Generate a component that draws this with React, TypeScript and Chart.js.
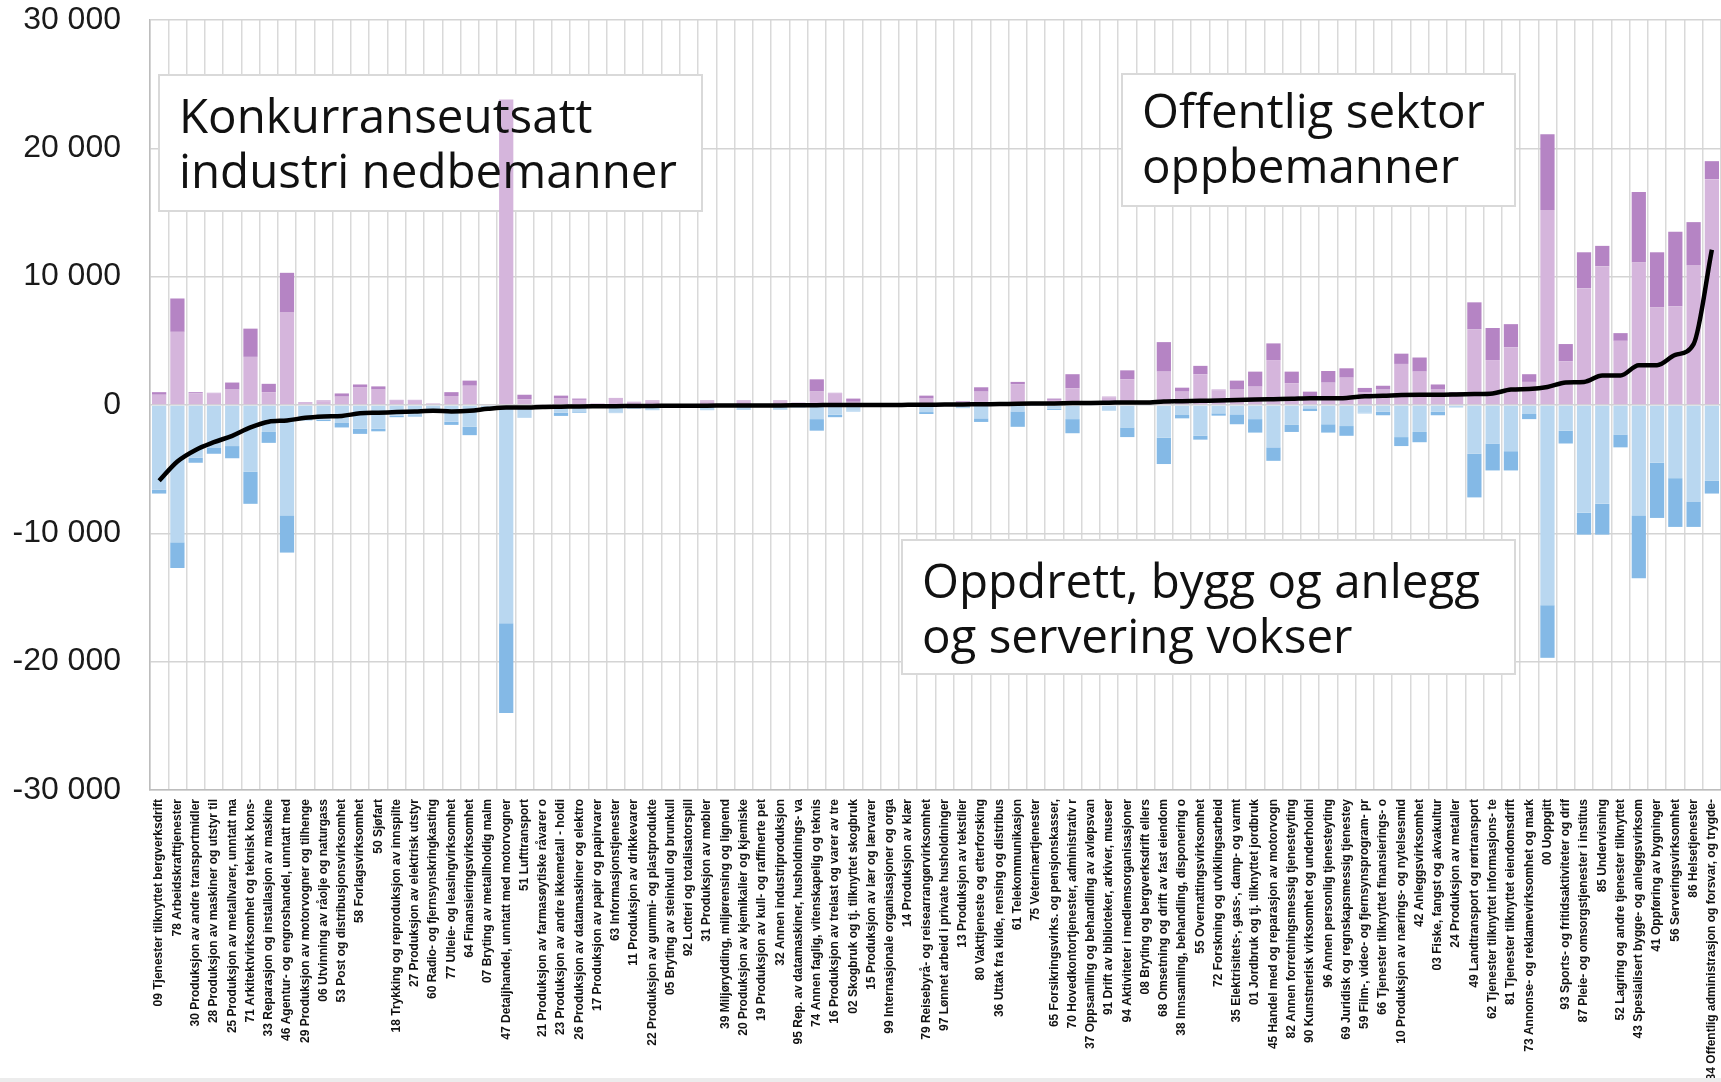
import React, { useEffect, useRef } from "react";
import { Chart, registerables } from "chart.js";

Chart.register(...registerables);

const categories = [
  "09 Tjenester tilknyttet bergverksdrift",
  "78 Arbeidskrafttjenester",
  "30 Produksjon av andre transportmidler",
  "28 Produksjon av maskiner og utstyr til",
  "25 Produksjon av metallvarer, unntatt ma",
  "71 Arkitektvirksomhet og teknisk kons-",
  "33 Reparasjon og installasjon av maskine",
  "46 Agentur- og engroshandel, unntatt med",
  "29 Produksjon av motorvogner og tilhenge",
  "06 Utvinning av råolje og naturgass",
  "53 Post og distribusjonsvirksomhet",
  "58 Forlagsvirksomhet",
  "50 Sjøfart",
  "18 Trykking og reproduksjon av innspilte",
  "27 Produksjon av elektrisk utstyr",
  "60 Radio- og fjernsynskringkasting",
  "77 Utleie- og leasingvirksomhet",
  "64 Finansieringsvirksomhet",
  "07 Bryting av metallholdig malm",
  "47 Detaljhandel, unntatt med motorvogner",
  "51 Lufttransport",
  "21 Produksjon av farmasøytiske råvarer o",
  "23 Produksjon av andre ikkemetall - holdi",
  "26 Produksjon av datamaskiner og elektro",
  "17 Produksjon av papir og papirvarer",
  "63 Informasjonstjenester",
  "11 Produksjon av drikkevarer",
  "22 Produksjon av gummi- og plastprodukte",
  "05 Bryting av steinkull og brunkull",
  "92 Lotteri og totalisatorspill",
  "31 Produksjon av møbler",
  "39 Miljørydding, miljørensing og lignend",
  "20 Produksjon av kjemikalier og kjemiske",
  "19 Produksjon av kull- og raffinerte pet",
  "32 Annen industriproduksjon",
  "95 Rep. av datamaskiner, husholdnings- va",
  "74 Annen faglig, vitenskapelig og teknis",
  "16 Produksjon av trelast og varer av tre",
  "02 Skogbruk og tj. tilknyttet skogbruk",
  "15 Produksjon av lær og lærvarer",
  "99 Internasjonale organisasjoner og orga",
  "14 Produksjon av klær",
  "79 Reisebyrå- og reisearrangørvirksomhet",
  "97 Lønnet arbeid i private husholdninger",
  "13 Produksjon av tekstiler",
  "80 Vakttjeneste og etterforsking",
  "36 Uttak fra kilde, rensing og distribus",
  "61 Telekommunikasjon",
  "75 Veterinærtjenester",
  "65 Forsikringsvirks. og pensjonskasser,",
  "70 Hovedkontortjenester, administrativ r",
  "37 Oppsamling og behandling av avløpsvan",
  "91 Drift av biblioteker, arkiver, museer",
  "94 Aktiviteter i medlemsorganisasjoner",
  "08 Bryting og bergverksdrift ellers",
  "68 Omsetning og drift av fast eiendom",
  "38 Innsamling, behandling, disponering o",
  "55 Overnattingsvirksomhet",
  "72 Forskning og utviklingsarbeid",
  "35 Elektrisitets-, gass-, damp- og varmt",
  "01 Jordbruk og tj. tilknyttet jordbruk",
  "45 Handel med og reparasjon av motorvogn",
  "82 Annen forretningsmessig tjenesteyting",
  "90 Kunstnerisk virksomhet og underholdni",
  "96 Annen personlig tjenesteyting",
  "69 Juridisk og regnskapsmessig tjenestey",
  "59 Film-, video- og fjernsynsprogram- pr",
  "66 Tjenester tilknyttet finansierings- o",
  "10 Produksjon av nærings- og nytelsesmid",
  "42 Anleggsvirksomhet",
  "03 Fiske, fangst og akvakultur",
  "24 Produksjon av metaller",
  "49 Landtransport og rørtransport",
  "62 Tjenester tilknyttet informasjons- te",
  "81 Tjenester tilknyttet eiendomsdrift",
  "73 Annonse- og reklamevirksomhet og mark",
  "00 Uoppgitt",
  "93 Sports- og fritidsaktiviteter og drif",
  "87 Pleie- og omsorgstjenester i institus",
  "85 Undervisning",
  "52 Lagring og andre tjenester tilknyttet",
  "43 Spesialisert bygge- og anleggsvirksom",
  "41 Oppføring av bygninger",
  "56 Serveringsvirksomhet",
  "86 Helsetjenester",
  "84 Offentlig administrasjon og forsvar, og trygde-",
];

// Inflow, lower (light purple) part
const gainBase = [
  800, 5700, 900, 900, 1200, 3750, 1000, 7200, 150, 300,
  650, 1400, 1200, 350, 350, 100, 700, 1500, 50, 23800,
  450, 50, 500, 400, 100, 500, 200, 300, 20, 30,
  300, 30, 300, 20, 300, 150, 1050, 900, 250, 20,
  20, 30, 500, 50, 250, 1040, 100, 1600, 100, 400,
  1300, 100, 600, 2000, 200, 2600, 1040, 2400, 1150, 1200,
  1430, 3500, 1700, 700, 1740, 2130, 1000, 1200, 3200, 2600,
  1200, 900, 5900, 3500, 4500, 1800, 15200, 3400, 9100, 10800,
  5000, 11100, 7600, 7700, 10900, 17600,
];

// Inflow, upper (dark purple) part
const gainTop = [
  200, 2600, 100, 50, 550, 2200, 650, 3100, 50, 50,
  250, 200, 250, 50, 50, 20, 300, 400, 0, 0,
  350, 0, 230, 100, 20, 50, 50, 50, 0, 0,
  50, 0, 50, 0, 50, 30, 950, 50, 250, 0,
  0, 0, 230, 0, 50, 340, 0, 200, 0, 100,
  1100, 20, 50, 700, 20, 2300, 310, 650, 50, 700,
  1170, 1300, 900, 340, 910, 730, 330, 300, 800, 1100,
  400, 100, 2100, 2500, 1800, 600, 5900, 1350, 2800, 1600,
  600, 5500, 4300, 5800, 3350, 1400,
];

// Outflow, upper (light blue) part
const lossBase = [
  -6600, -10700, -4100, -3350, -3200, -5200, -2100, -8600, -1100, -1150,
  -1400, -1850, -1850, -850, -800, -500, -1300, -1700, -350, -17000,
  -1000, -200, -600, -500, -200, -600, -300, -350, -80, -80,
  -350, -70, -350, -50, -350, -200, -1100, -750, -450, -20,
  -20, -20, -550, -20, -250, -1040, -50, -500, -20, -300,
  -1100, -50, -450, -1750, -50, -2550, -780, -2400, -650, -730,
  -1100, -3300, -1550, -260, -1500, -1640, -600, -530, -2500, -2100,
  -530, -200, -3800, -3000, -3600, -700, -15600, -2000, -8400, -7700,
  -2300, -8600, -4500, -5700, -7550, -5900,
];

// Outflow, lower (dark blue) part
const lossTop = [
  -300, -2000, -400, -450, -950, -2500, -850, -2900, -100, -100,
  -350, -400, -200, -100, -100, -70, -250, -650, 0, -7000,
  0, 0, -250, -100, 0, -30, 0, -50, 0, 0,
  -50, 0, -40, 0, -30, 0, -900, -200, -50, 0,
  0, 0, -150, 0, 0, -280, 0, -1200, 0, -80,
  -1100, 0, 0, -750, 0, -2050, -260, -300, -180, -770,
  -1050, -1050, -550, -210, -650, -760, -50, -270, -700, -800,
  -270, 0, -3400, -2100, -1500, -400, -4100, -1000, -1700, -2400,
  -1000, -4900, -4300, -3800, -1950, -1000,
];

// Net change (black line)
const netChange = [
  -5900, -4400, -3500, -2900, -2400, -1750, -1300, -1200, -1000, -900,
  -850, -650, -600, -550, -500, -450, -500, -450, -300, -200,
  -200, -150, -130, -110, -100, -90, -80, -70, -60, -50,
  -50, -40, -40, -30, -30, -20, -10, 0, 0, 0,
  0, 10, 20, 30, 40, 60, 70, 100, 110, 120,
  150, 160, 180, 200, 200, 280, 300, 330, 350, 380,
  420, 450, 480, 520, 520, 550, 680, 720, 780, 800,
  800, 820, 850, 900, 1200, 1250, 1400, 1750, 1800, 2300,
  2300, 3100, 3100, 3900, 4750, 12100,
];

const yTicks = [30000, 20000, 10000, 0, -10000, -20000, -30000];

const annotationTexts = [
  ["Konkurranseutsatt", "industri nedbemanner"],
  ["Offentlig sektor", "oppbemanner"],
  ["Oppdrett, bygg og anlegg", "og servering vokser"],
];

const fmt = (v: number) => {
  const s = Math.abs(v).toString().replace(/\B(?=(\d{3})+(?!\d))/g, " ");
  return (v < 0 ? "-" : "") + s;
};

const boxPlugin = {
  id: "textBoxes",
  beforeDatasetsDraw(chart: any) {
    const ctx = chart.ctx;
    const boxes = [
      [159, 75, 543, 136],
      [1122, 74, 393, 132],
      [902, 540, 613, 134],
    ];
    ctx.save();
    boxes.forEach(([x, y, w, h]) => {
      ctx.fillStyle = "#ffffff";
      ctx.fillRect(x, y, w, h);
      ctx.strokeStyle = "#d9d9d9";
      ctx.lineWidth = 2;
      ctx.strokeRect(x, y, w, h);
    });
    ctx.restore();
  },
  afterDatasetsDraw(chart: any) {
    const ctx = chart.ctx;
    const pos = [
      [179, 133],
      [1142, 128],
      [922, 598],
    ];
    ctx.save();
    ctx.fillStyle = "#111111";
    ctx.font = "47.5px 'Open Sans'";
    ctx.textAlign = "left";
    ctx.textBaseline = "alphabetic";
    annotationTexts.forEach((lines, i) => {
      lines.forEach((t, j) => {
        ctx.fillText(t, pos[i][0], pos[i][1] + j * 55);
      });
    });
    ctx.fillStyle = "#ececec";
    ctx.fillRect(0, 1078, chart.width, 4);
    ctx.restore();
  },
};

export default function App() {
  const ref = useRef<HTMLCanvasElement | null>(null);

  useEffect(() => {
    if (!ref.current) return;
    const chart = new Chart(ref.current, {
      type: "bar",
      data: {
        labels: categories,
        datasets: [
          {
            type: "line",
            label: "Netto",
            data: netChange,
            borderColor: "#000000",
            borderWidth: 4.5,
            pointRadius: 0,
            cubicInterpolationMode: "monotone",
            order: 0,
            stack: "net",
          } as any,
          {
            label: "Inn",
            data: gainBase,
            backgroundColor: "#d5b5dc",
            barPercentage: 0.78,
            categoryPercentage: 1,
            stack: "flow",
            order: 1,
          },
          {
            label: "Inn 2",
            data: gainTop,
            backgroundColor: "#b584c4",
            barPercentage: 0.78,
            categoryPercentage: 1,
            stack: "flow",
            order: 1,
          },
          {
            label: "Ut",
            data: lossBase,
            backgroundColor: "#b9d7f0",
            barPercentage: 0.78,
            categoryPercentage: 1,
            stack: "flow",
            order: 1,
          },
          {
            label: "Ut 2",
            data: lossTop,
            backgroundColor: "#84b9e6",
            barPercentage: 0.78,
            categoryPercentage: 1,
            stack: "flow",
            order: 1,
          },
        ],
      },
      options: {
        animation: false,
        responsive: false,
        devicePixelRatio: 1,
        layout: { padding: { top: 20, left: 0, right: 0, bottom: 0 } },
        plugins: {
          legend: { display: false },
          tooltip: { enabled: false },
        },
        scales: {
          x: {
            stacked: true,
            grid: { offset: true, color: "#d9d9d9", lineWidth: 1.5, drawTicks: false },
            border: { color: "#bdbdbd", width: 1.5 },
            ticks: {
              autoSkip: false,
              maxRotation: 90,
              minRotation: 90,
              padding: 9,
              color: "#111111",
              font: { family: "'Liberation Sans', Arial, sans-serif", size: 12, weight: "bold" },
            },
            afterFit: (s: any) => {
              s.height = 292;
              s.paddingLeft = 0;
              s.paddingRight = 0;
            },
          },
          y: {
            stacked: true,
            min: -30000,
            max: 30000,
            afterBuildTicks: (s: any) => {
              s.ticks = yTicks.map((v) => ({ value: v }));
            },
            grid: { color: "#d4d4d4", lineWidth: 1.5, drawTicks: false },
            border: { color: "#bdbdbd", width: 1.5 },
            ticks: {
              padding: 29,
              color: "#1a1a1a",
              font: { family: "'Liberation Sans', Arial, sans-serif", size: 32 },
              callback: (v: any) => fmt(Number(v)),
            },
            afterFit: (s: any) => {
              s.width = 150;
              s.paddingTop = 0;
              s.paddingBottom = 0;
            },
          },
        },
      },
      plugins: [boxPlugin],
    });
    return () => chart.destroy();
  }, []);

  return (
    <div style={{ position: "absolute", left: 0, top: 0, width: 1721, height: 1082, background: "#fff" }}>
      <canvas ref={ref} width={1721} height={1082} style={{ display: "block" }} />
    </div>
  );
}
